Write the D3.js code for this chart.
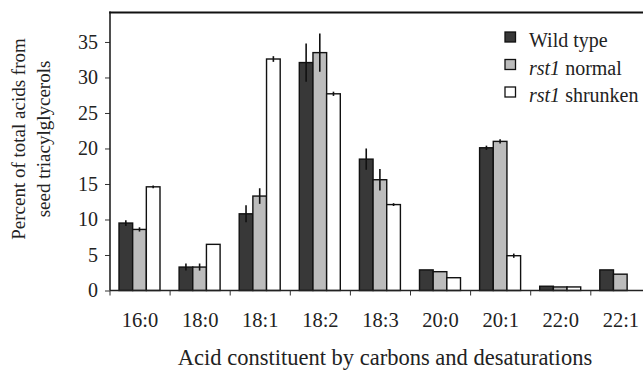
<!DOCTYPE html>
<html>
<head>
<meta charset="utf-8">
<script src="https://cdn.jsdelivr.net/npm/d3@7"></script>
<style>
  body { margin: 0; background: #fff; }
  text { font-family: "Liberation Serif", "Times New Roman", serif; fill: #222; }
</style>
</head>
<body>
<div id="chart"></div>
<script>
// fatty acid categories along the x axis
var categories = ["16:0", "18:0", "18:1", "18:2", "18:3", "20:0", "20:1", "22:0", "22:1"];

// the three seed lines shown in the legend
var seriesNames = ["Wild type", "rst1 normal", "rst1 shrunken"];

// percent values per category, one list per line
var wildType     = [9.5, 3.3, 10.8, 32.1, 18.5, 2.9, 20.1, 0.6, 2.9];
var rst1Normal   = [8.6, 3.3, 13.3, 33.5, 15.6, 2.65, 21.0, 0.5, 2.3];
var rst1Shrunken = [14.6, 6.5, 32.6, 27.7, 12.1, 1.8, 4.9, 0.5, null];

// error bar half lengths
var wildTypeErr     = [0.4, 0.5, 1.2, 2.7, 1.5, 0, 0.3, 0, 0];
var rst1NormalErr   = [0.3, 0.5, 1.1, 2.7, 1.5, 0, 0.3, 0, 0];
var rst1ShrunkenErr = [0.2, 0, 0.4, 0.3, 0.2, 0, 0.3, 0, 0];

var yTicks = [0, 5, 10, 15, 20, 25, 30, 35];
var yMax = 39.15;

// note: "top" is taken by window.top, so use other names
var W = 643, H = 371;
var plotLeft = 110, plotTop = 12.5, plotBottom = 290.5, step = 60.1;
var fills = ["#383838", "#bcbcbc", "#ffffff"];

var svg = d3.select("#chart").append("svg")
    .attr("width", W)
    .attr("height", H);

// scales: the band runs past the right edge just like the original figure
var x = d3.scaleBand()
    .domain(categories)
    .range([plotLeft, plotLeft + step * categories.length])
    .padding(0);

var x1 = d3.scaleBand()
    .domain(d3.range(seriesNames.length))
    .range([9, 50]);

var y = d3.scaleLinear()
    .domain([0, yMax])
    .range([plotBottom, plotTop]);

// build rows from the lists
var values = [wildType, rst1Normal, rst1Shrunken];
var errors = [wildTypeErr, rst1NormalErr, rst1ShrunkenErr];
var rows = [];
categories.forEach(function(c, i) {
    values.forEach(function(v, s) {
        if (v[i] != null) rows.push({cat: c, s: s, v: v[i], e: errors[s][i]});
    });
});

// bars
svg.append("g").selectAll("rect")
    .data(rows)
    .enter().append("rect")
    .attr("x", function(d) { return x(d.cat) + x1(d.s); })
    .attr("y", function(d) { return y(d.v); })
    .attr("width", x1.bandwidth())
    .attr("height", function(d) { return y(0) - y(d.v); })
    .style("fill", function(d) { return fills[d.s]; })
    .style("stroke", "#111")
    .style("stroke-width", 1.4);

// error bars
svg.append("g").selectAll("line")
    .data(rows.filter(function(d) { return d.e > 0; }))
    .enter().append("line")
    .attr("x1", function(d) { return x(d.cat) + x1(d.s) + x1.bandwidth() / 2; })
    .attr("x2", function(d) { return x(d.cat) + x1(d.s) + x1.bandwidth() / 2; })
    .attr("y1", function(d) { return y(d.v - d.e); })
    .attr("y2", function(d) { return y(d.v + d.e); })
    .style("stroke", "#111")
    .style("stroke-width", 1.6);

// y axis
var yAxis = d3.axisLeft(y)
    .tickValues(yTicks)
    .tickSize(5)
    .tickPadding(7);

var gy = svg.append("g")
    .attr("transform", "translate(" + plotLeft + ",0)")
    .call(yAxis);
gy.select(".domain").remove();
gy.selectAll(".tick line").style("stroke", "#333");
gy.selectAll("text")
    .style("font-family", "'Liberation Serif', serif")
    .style("font-size", "20px")
    .style("fill", "#222");

svg.append("line")
    .attr("x1", plotLeft).attr("x2", plotLeft)
    .attr("y1", plotTop - 1).attr("y2", plotBottom)
    .style("stroke", "#222")
    .style("stroke-width", 1.6);

// top border
svg.append("line")
    .attr("x1", plotLeft - 0.8).attr("x2", W)
    .attr("y1", plotTop).attr("y2", plotTop)
    .style("stroke", "#111")
    .style("stroke-width", 2.2);

// x axis: labels centred in bands, ticks at band edges
var xAxis = d3.axisBottom(x)
    .tickSize(0)
    .tickPadding(22);

var gx = svg.append("g")
    .attr("transform", "translate(0," + plotBottom + ")")
    .call(xAxis);
gx.select(".domain").remove();
gx.selectAll("text")
    .style("font-family", "'Liberation Serif', serif")
    .style("font-size", "20.5px")
    .style("fill", "#222");

svg.append("line")
    .attr("x1", plotLeft).attr("x2", W)
    .attr("y1", plotBottom).attr("y2", plotBottom)
    .style("stroke", "#222")
    .style("stroke-width", 1.6);

svg.append("g").selectAll("line")
    .data(categories)
    .enter().append("line")
    .attr("x1", function(d) { return x(d); })
    .attr("x2", function(d) { return x(d); })
    .attr("y1", plotBottom)
    .attr("y2", plotBottom + 5)
    .style("stroke", "#333");

// axis titles
svg.append("text")
    .attr("x", (177 + 593) / 2)
    .attr("y", 365)
    .attr("text-anchor", "middle")
    .style("font-size", "22.5px")
    .text("Acid constituent by carbons and desaturations");

var yTitle = svg.append("text")
    .attr("transform", "translate(0,139) rotate(-90)")
    .attr("text-anchor", "middle")
    .style("font-size", "19px");
yTitle.append("tspan").attr("x", 0).attr("y", 25).text("Percent of total acids from");
yTitle.append("tspan").attr("x", 0).attr("y", 50).text("seed triacylglycerols");

// legend
var legend = svg.append("g").selectAll("g")
    .data(seriesNames)
    .enter().append("g")
    .attr("transform", function(d, i) { return "translate(505," + (32 + i * 27.5) + ")"; });

legend.append("rect")
    .attr("width", 10.5)
    .attr("height", 10)
    .style("fill", function(d, i) { return fills[i]; })
    .style("stroke", "#111")
    .style("stroke-width", 1.3);

legend.append("text")
    .attr("x", 24)
    .attr("y", 15)
    .style("font-size", "20px")
    .each(function(d) {
        var t = d3.select(this);
        if (d.indexOf("rst1") == 0) {
            t.append("tspan").style("font-style", "italic").text("rst1");
            t.append("tspan").text(d.slice(4));
        } else {
            t.text(d);
        }
    });
</script>
</body>
</html>
